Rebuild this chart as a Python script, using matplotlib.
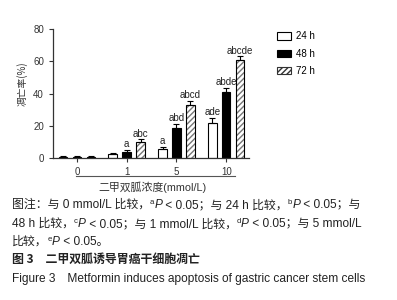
import matplotlib
matplotlib.use("Agg")
import matplotlib.pyplot as plt
import numpy as np

plt.rcParams['font.family'] = ['Liberation Sans', 'Noto Sans CJK SC', 'DejaVu Sans']

doses = ["0", "1", "5", "10"]
series = ["24 h", "48 h", "72 h"]
val_24 = [0.8, 2.3, 5.5, 22.0]
val_48 = [0.7, 4.0, 18.5, 41.0]
val_72 = [0.8, 10.0, 33.0, 60.5]
err_24 = [0.4, 1.0, 1.5, 3.0]
err_48 = [0.4, 1.2, 2.5, 2.5]
err_72 = [0.4, 1.5, 2.5, 2.5]
lab_24 = ["", "", "a", "ade"]
lab_48 = ["", "a", "abd", "abde"]
lab_72 = ["", "abc", "abcd", "abcde"]

# caption pieces: (text, kind) kind = n normal, s superscript, i italic
caption_lines = [
    [("图注：与 0 mmol/L 比较，", "n"), ("a", "s"), ("P", "i"), (" < 0.05；与 24 h 比较，", "n"),
     ("b", "s"), ("P", "i"), (" < 0.05；与", "n")],
    [("48 h 比较，", "n"), ("c", "s"), ("P", "i"), (" < 0.05；与 1 mmol/L 比较，", "n"),
     ("d", "s"), ("P", "i"), (" < 0.05；与 5 mmol/L", "n")],
    [("比较，", "n"), ("e", "s"), ("P", "i"), (" < 0.05。", "n")],
]

fig = plt.figure(figsize=(3.97, 3.0), dpi=100)
ax = fig.add_axes([0.1335, 0.4733, 0.494, 0.43])

x = np.arange(len(doses))
w = 0.17
off = 0.28
for i, (vals, errs, labs) in enumerate([(val_24, err_24, lab_24),
                                          (val_48, err_48, lab_48),
                                          (val_72, err_72, lab_72)]):
    pos = x + (i - 1) * off
    if i == 0:
        ax.bar(pos, vals, w, color="white", edgecolor="black", linewidth=0.8, label=series[i])
    elif i == 1:
        ax.bar(pos, vals, w, color="black", edgecolor="black", linewidth=0.8, label=series[i])
    else:
        ax.bar(pos, vals, w, color="white", edgecolor="#777777", hatch="//////", linewidth=0)
        ax.bar(pos, vals, w, fill=False, edgecolor="black", linewidth=0.8)
        ax.bar([-5], [1], w, color="white", edgecolor="#333333", hatch="//////",
               linewidth=0.8, label=series[i])
    ax.errorbar(pos, vals, yerr=[np.zeros(len(errs)), errs], fmt="none",
                ecolor="black", elinewidth=0.8, capsize=2, capthick=0.8)
    for p, v, e, t in zip(pos, vals, errs, labs):
        if t:
            ax.text(p, v + e + 0.5, t, ha="center", va="bottom", fontsize=7, color="#222222")

ax.set_xlim(-0.48, 3.46)
ax.set_ylim(0, 80)
ax.set_yticks([0, 20, 40, 60, 80])
ax.set_xticks(x)
ax.set_xticklabels(doses)
ax.tick_params(labelsize=7, colors="#333333", length=3, width=0.8)
for s in ["top", "right"]:
    ax.spines[s].set_visible(False)
for s in ["left", "bottom"]:
    ax.spines[s].set_linewidth(0.9)
    ax.spines[s].set_color("#333333")

ax.legend(loc="upper left", bbox_to_anchor=(1.1, 1.05), frameon=False, fontsize=7,
          handlelength=1.4, handleheight=0.8, labelspacing=0.75, handletextpad=0.5)

fig.text(0.055, 0.72, "凋亡率(%)", rotation=90, ha="center", va="center", fontsize=7,
         family=['Noto Sans CJK SC'], color="#333333")
fig.add_artist(plt.Line2D([76 / 397, 235 / 397], [1 - 176 / 300, 1 - 176 / 300],
                          color="#555555", linewidth=0.8))
fig.text(152 / 397, 1 - 187 / 300, "二甲双胍浓度(mmol/L)", ha="center", va="center",
         fontsize=7.8, color="#333333")

# caption, built piece by piece in pixel coordinates
renderer = fig.canvas.get_renderer()
fs = 8.6
for line, ypix in zip(caption_lines, [208, 227, 245]):
    xpix = 12
    for txt, kind in line:
        size = fs * 0.65 if kind == "s" else fs
        style = "italic" if kind == "i" else "normal"
        yy = ypix - 4 if kind == "s" else ypix
        t = fig.text(xpix / 397, 1 - yy / 300, txt, ha="left", va="baseline",
                     fontsize=size, fontstyle=style, color="#222222")
        xpix += t.get_window_extent(renderer).width
fig.text(12 / 397, 1 - 263 / 300, "图 3　二甲双胍诱导胃癌干细胞凋亡", ha="left", va="baseline",
         fontsize=fs, fontweight="bold", family=['Noto Sans CJK SC'], color="#222222")
fig.text(12 / 397, 1 - 282 / 300, "Figure 3　Metformin induces apoptosis of gastric cancer stem cells",
         ha="left", va="baseline", fontsize=fs, color="#222222")

fig.savefig("out.png", dpi=100)
